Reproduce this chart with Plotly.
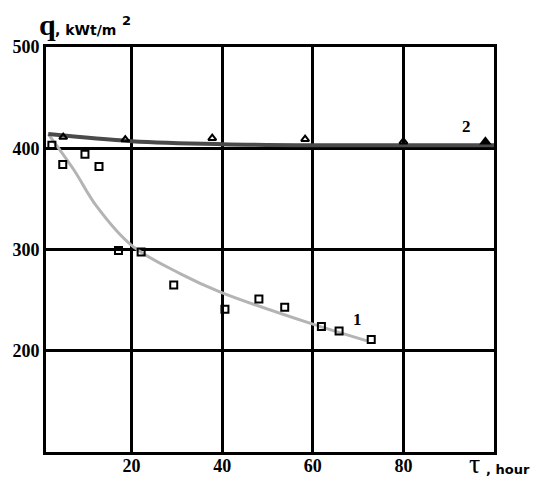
import plotly.graph_objects as go

# Series 1: measured points (squares) and fitted curve
s1_x = [2.4, 4.8, 9.7, 12.8, 17.1, 22.1, 29.3, 40.6, 48.1, 53.8, 61.9, 65.8, 72.9]
s1_y = [403, 384, 394, 382, 299, 297.5, 265, 241, 251, 243, 224, 219.5, 211]
c1_x = [1.6, 7.2, 12.3, 20, 30.8, 39.6, 59.5, 72]
c1_y = [414, 379, 342.5, 304, 276, 258, 227, 209.7]

# Series 2: measured points (triangles) and fitted line
s2_x = [4.9, 18.6, 37.8, 58.3, 80.0]
s2_y = [411, 408.6, 410, 409, 406.5]
s2_end_x = [98.1]
s2_end_y = [406.5]
c2_x = [1.6, 20, 40, 60, 100]
c2_y = [414, 407, 404, 403, 403]

x_ticks = [20, 40, 60, 80]
y_ticks = [200, 300, 400, 500]

W, H = 533, 478
L, R, T, B = 46, 39, 47, 26
PW, PH = W - L - R, H - T - B


def px(xpix):
    return (xpix - L) / PW


def py(ypix):
    return (H - B - ypix) / PH


fig = go.Figure()
fig.add_trace(go.Scatter(x=c1_x, y=c1_y, mode="lines", line=dict(color="#b4b4b4", width=3, shape="spline"),
                         hoverinfo="skip"))
fig.add_trace(go.Scatter(x=c2_x, y=c2_y, mode="lines", line=dict(color="#4a4a4a", width=4, shape="spline"),
                         hoverinfo="skip"))
fig.add_trace(go.Scatter(x=s1_x, y=s1_y, mode="markers",
                         marker=dict(symbol="square-open", size=7, color="black", line=dict(width=2, color="black"))))
fig.add_trace(go.Scatter(x=s2_x, y=s2_y, mode="markers",
                         marker=dict(symbol="triangle-up-open", size=7, color="black", line=dict(width=2, color="black"))))
fig.add_trace(go.Scatter(x=s2_end_x, y=s2_end_y, mode="markers",
                         marker=dict(symbol="triangle-up", size=11, color="black")))

axis_common = dict(showgrid=True, gridcolor="black", gridwidth=3, showline=True, mirror=True,
                   linecolor="black", linewidth=3, zeroline=False, ticks="", automargin=False,
                   tickfont=dict(family="Liberation Serif", size=18, color="black", weight="bold"))
fig.update_xaxes(range=[1.1, 100], tickvals=x_ticks, ticklabelstandoff=-5, **axis_common)
fig.update_yaxes(range=[100, 500], tickvals=y_ticks, **axis_common)

annotations = [
    dict(x=69.8, y=231, xref="x", yref="y", text="1", showarrow=False,
         font=dict(family="Liberation Serif", size=17, color="black", weight="bold")),
    dict(x=94, y=421, xref="x", yref="y", text="2", showarrow=False,
         font=dict(family="Liberation Serif", size=17, color="black", weight="bold")),
    dict(x=px(37), y=py(43), xref="paper", yref="paper", text="q", showarrow=False,
         xanchor="left", yanchor="bottom",
         font=dict(family="Liberation Serif", size=30, color="black", weight="bold")),
    dict(x=px(53), y=py(30), xref="paper", yref="paper", text=", kWt/m", showarrow=False,
         xanchor="left", yanchor="middle",
         font=dict(family="DejaVu Sans", size=14, color="black", weight="bold")),
    dict(x=px(120), y=py(20), xref="paper", yref="paper", text="2", showarrow=False,
         xanchor="left", yanchor="middle",
         font=dict(family="DejaVu Sans", size=13, color="black", weight="bold")),
    dict(x=px(467), y=py(463), xref="paper", yref="paper", text="τ", showarrow=False,
         xanchor="left", yanchor="middle",
         font=dict(family="Liberation Serif", size=28, color="black")),
    dict(x=px(484), y=py(469), xref="paper", yref="paper", text=", hour", showarrow=False,
         xanchor="left", yanchor="middle",
         font=dict(family="DejaVu Sans", size=13, color="black", weight="bold")),
]

fig.update_layout(width=W, height=H, margin=dict(l=L, r=R, t=T, b=B), showlegend=False,
                  paper_bgcolor="white", plot_bgcolor="white", annotations=annotations)

fig.write_html("out.html")
